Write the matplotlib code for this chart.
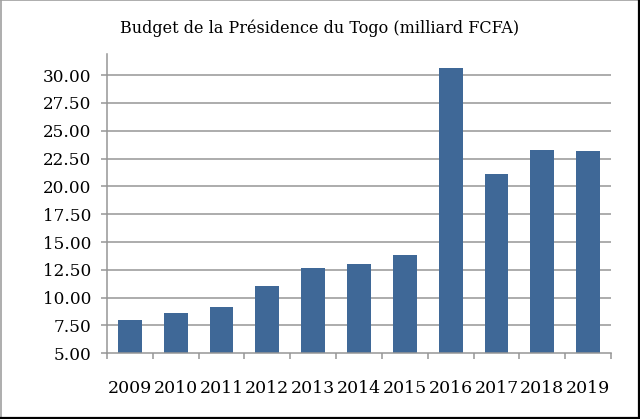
import matplotlib
matplotlib.use("Agg")
import matplotlib.pyplot as plt
from matplotlib.lines import Line2D
import numpy as np

years = ["2009", "2010", "2011", "2012", "2013", "2014", "2015", "2016", "2017", "2018", "2019"]
budget = [7.99, 8.62, 9.16, 11.05, 12.66, 13.02, 13.83, 30.63, 21.11, 23.27, 23.18]
yticks = [5.0, 7.5, 10.0, 12.5, 15.0, 17.5, 20.0, 22.5, 25.0, 27.5, 30.0]
title = "Budget de la Présidence du Togo (milliard FCFA)"

plt.rcParams['font.family'] = ['DejaVu Serif']

W, H = 640, 419
fig = plt.figure(figsize=(W / 100, H / 100), dpi=100)
ax = fig.add_axes([107 / W, 1 - 353.3 / H, (611 - 107) / W, (353.3 - 54) / H])

grid_c = '#969696'
x = np.arange(len(years))
ax.bar(x, budget, width=0.52, color='#3f6897', zorder=3, bottom=0)
ax.set_xlim(-0.5, len(years) - 0.5)
ax.set_ylim(5, 31.9)
ax.set_yticks(yticks)
ax.set_yticklabels([f"{v:.2f}" for v in yticks])
ax.set_xticks(x)
ax.set_xticklabels(years)
ax.set_xticks(np.arange(-0.5, len(years), 1), minor=True)

for y in yticks[1:]:
    ax.axhline(y, color=grid_c, lw=1.1, zorder=1)

for s in ['top', 'right']:
    ax.spines[s].set_visible(False)
for s in ['left', 'bottom']:
    ax.spines[s].set_color(grid_c)
    ax.spines[s].set_linewidth(1.1)
    ax.spines[s].set_zorder(4)

ax.tick_params(axis='y', direction='out', length=4.5, width=1.1, color=grid_c, pad=7, labelsize=12.2, labelcolor='black')
ax.tick_params(axis='x', which='major', length=0, pad=19, labelsize=12.5, labelcolor='black')
ax.tick_params(axis='x', which='minor', direction='out', length=4.5, width=1.1, color=grid_c)

fig.text(320 / W, 1 - 28.5 / H, title, ha='center', va='center', fontsize=11.5, color='black')

# outer border
fig.add_artist(Line2D([0.5 / W, 0.5 / W], [0, 1], color='#a0a0a0', lw=1.2, transform=fig.transFigure))
fig.add_artist(Line2D([0, 1], [1 - 0.5 / H, 1 - 0.5 / H], color='#a0a0a0', lw=1.2, transform=fig.transFigure))
fig.add_artist(Line2D([1 - 1.5 / W, 1 - 1.5 / W], [0, 1], color='black', lw=1.6, transform=fig.transFigure))
fig.add_artist(Line2D([0, 1], [1.5 / H, 1.5 / H], color='black', lw=1.6, transform=fig.transFigure))

fig.savefig("out.png", dpi=100)
